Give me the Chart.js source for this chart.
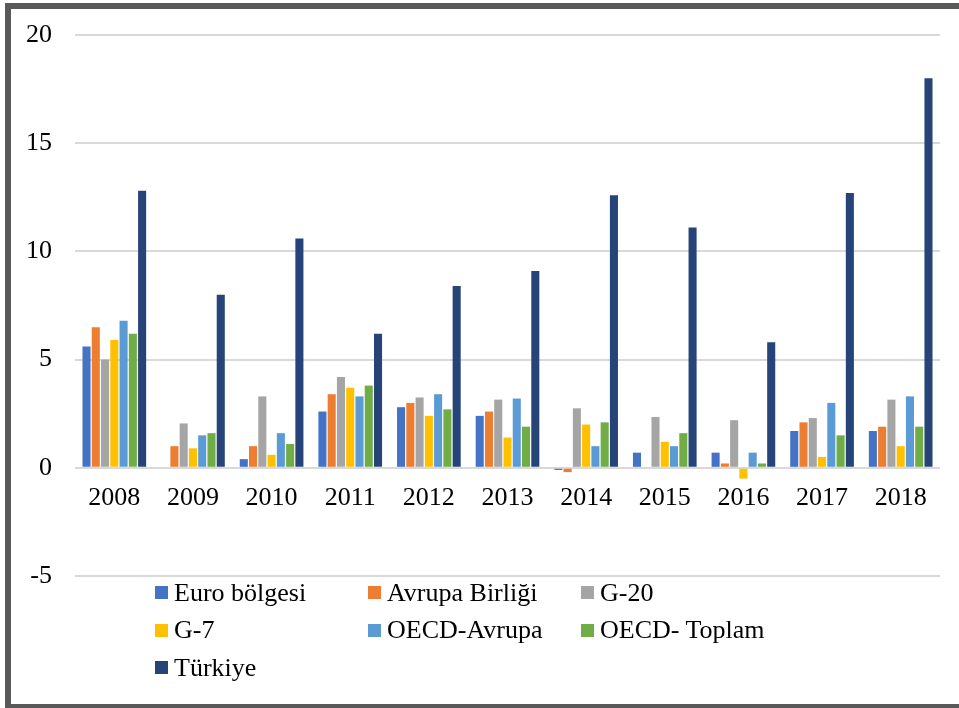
<!DOCTYPE html>
<html>
<head>
<meta charset="utf-8">
<script src="https://cdn.jsdelivr.net/npm/chart.js@4"></script>
<style>
  html, body { margin: 0; padding: 0; background: #fff; overflow: hidden; }
  #wrap { position: absolute; left: 0; top: 0; width: 959px; height: 708px; }
  #frame {
    position: absolute; left: 5px; top: 3px; width: 1000px; height: 707px;
    border: 6px solid #595959; box-sizing: border-box; pointer-events: none;
  }
  #legend {
    position: absolute; left: 155px; top: 574px;
    display: grid; grid-template-columns: 213px 213px 213px;
    font-family: "Liberation Serif", "Times New Roman", serif; font-size: 26px; color: #000;
  }
  #legend .item { display: flex; align-items: center; height: 37.5px; white-space: nowrap; }
  #legend .box { width: 13px; height: 13px; margin-right: 6px; flex: none; }
</style>
</head>
<body>
<div id="wrap"><canvas id="chart"></canvas></div>
<div id="legend"></div>
<div id="frame"></div>
<script>
// yillar ve seriler
const years = ["2008", "2009", "2010", "2011", "2012", "2013", "2014", "2015", "2016", "2017", "2018"];
const euroBolgesi = [5.6, 0, 0.4, 2.6, 2.8, 2.4, -0.1, 0.7, 0.7, 1.7, 1.7];
const avrupaBirligi = [6.5, 1.0, 1.0, 3.4, 3.0, 2.6, -0.2, 0, 0.2, 2.1, 1.9];
const g20 = [5.0, 2.05, 3.3, 4.2, 3.25, 3.15, 2.75, 2.35, 2.2, 2.3, 3.15];
const g7 = [5.9, 0.9, 0.6, 3.7, 2.4, 1.4, 2.0, 1.2, -0.5, 0.5, 1.0];
const oecdAvrupa = [6.8, 1.5, 1.6, 3.3, 3.4, 3.2, 1.0, 1.0, 0.7, 3.0, 3.3];
const oecdToplam = [6.2, 1.6, 1.1, 3.8, 2.7, 1.9, 2.1, 1.6, 0.2, 1.5, 1.9];
const turkiye = [12.8, 8.0, 10.6, 6.2, 8.4, 9.1, 12.6, 11.1, 5.8, 12.7, 18.0];
const yTicks = [-5, 0, 5, 10, 15, 20];

const series = [
  { label: "Euro bölgesi", data: euroBolgesi, color: "#4472C4" },
  { label: "Avrupa Birliği", data: avrupaBirligi, color: "#ED7D31" },
  { label: "G-20", data: g20, color: "#A5A5A5" },
  { label: "G-7", data: g7, color: "#FFC000" },
  { label: "OECD-Avrupa", data: oecdAvrupa, color: "#5B9BD5" },
  { label: "OECD- Toplam", data: oecdToplam, color: "#70AD47" },
  { label: "Türkiye", data: turkiye, color: "#264478" },
];

const serif = "'Liberation Serif', 'Times New Roman', serif";

// lejant HTML olarak, 3 sutunlu
const htmlLegend = {
  id: "htmlLegend",
  afterUpdate(chart) {
    const box = document.getElementById("legend");
    box.innerHTML = "";
    chart.data.datasets.forEach((ds) => {
      const item = document.createElement("div");
      item.className = "item";
      const sw = document.createElement("span");
      sw.className = "box";
      sw.style.background = ds.backgroundColor;
      const txt = document.createElement("span");
      txt.textContent = ds.label;
      item.appendChild(sw);
      item.appendChild(txt);
      box.appendChild(item);
    });
  },
};

const ctx = document.getElementById("chart").getContext("2d");
const chart = new Chart(ctx, {
  type: "bar",
  data: {
    labels: years,
    datasets: series.map((s) => ({
      label: s.label,
      data: s.data,
      backgroundColor: s.color,
      borderWidth: 0,
      categoryPercentage: 0.825,
      barPercentage: 0.87,
    })),
  },
  options: {
    responsive: true,
    maintainAspectRatio: false,
    animation: false,
    layout: { padding: { left: 0, top: 35, right: 19, bottom: 132 } },
    plugins: {
      legend: { display: false },
      tooltip: { enabled: false },
    },
    scales: {
      x: {
        position: { y: 0 },
        grid: { display: false, drawTicks: false },
        border: { display: false },
        ticks: {
          color: "#000",
          font: { family: serif, size: 26 },
          padding: 15,
          maxRotation: 0,
          autoSkip: false,
        },
        afterFit(scale) {
          scale.paddingLeft = 0;
          scale.paddingRight = 0;
        },
      },
      y: {
        min: -5,
        max: 20,
        grid: { color: "#d9d9d9", lineWidth: 2, drawTicks: false },
        border: { display: false },
        ticks: {
          color: "#000",
          font: { family: serif, size: 26 },
          padding: 23,
        },
        afterBuildTicks(scale) {
          scale.ticks = yTicks.map((v) => ({ value: v }));
        },
        afterFit(scale) {
          scale.width = 75;
          scale.paddingTop = 0;
          scale.paddingBottom = 0;
        },
      },
    },
  },
  plugins: [htmlLegend],
});
</script>
</body>
</html>
